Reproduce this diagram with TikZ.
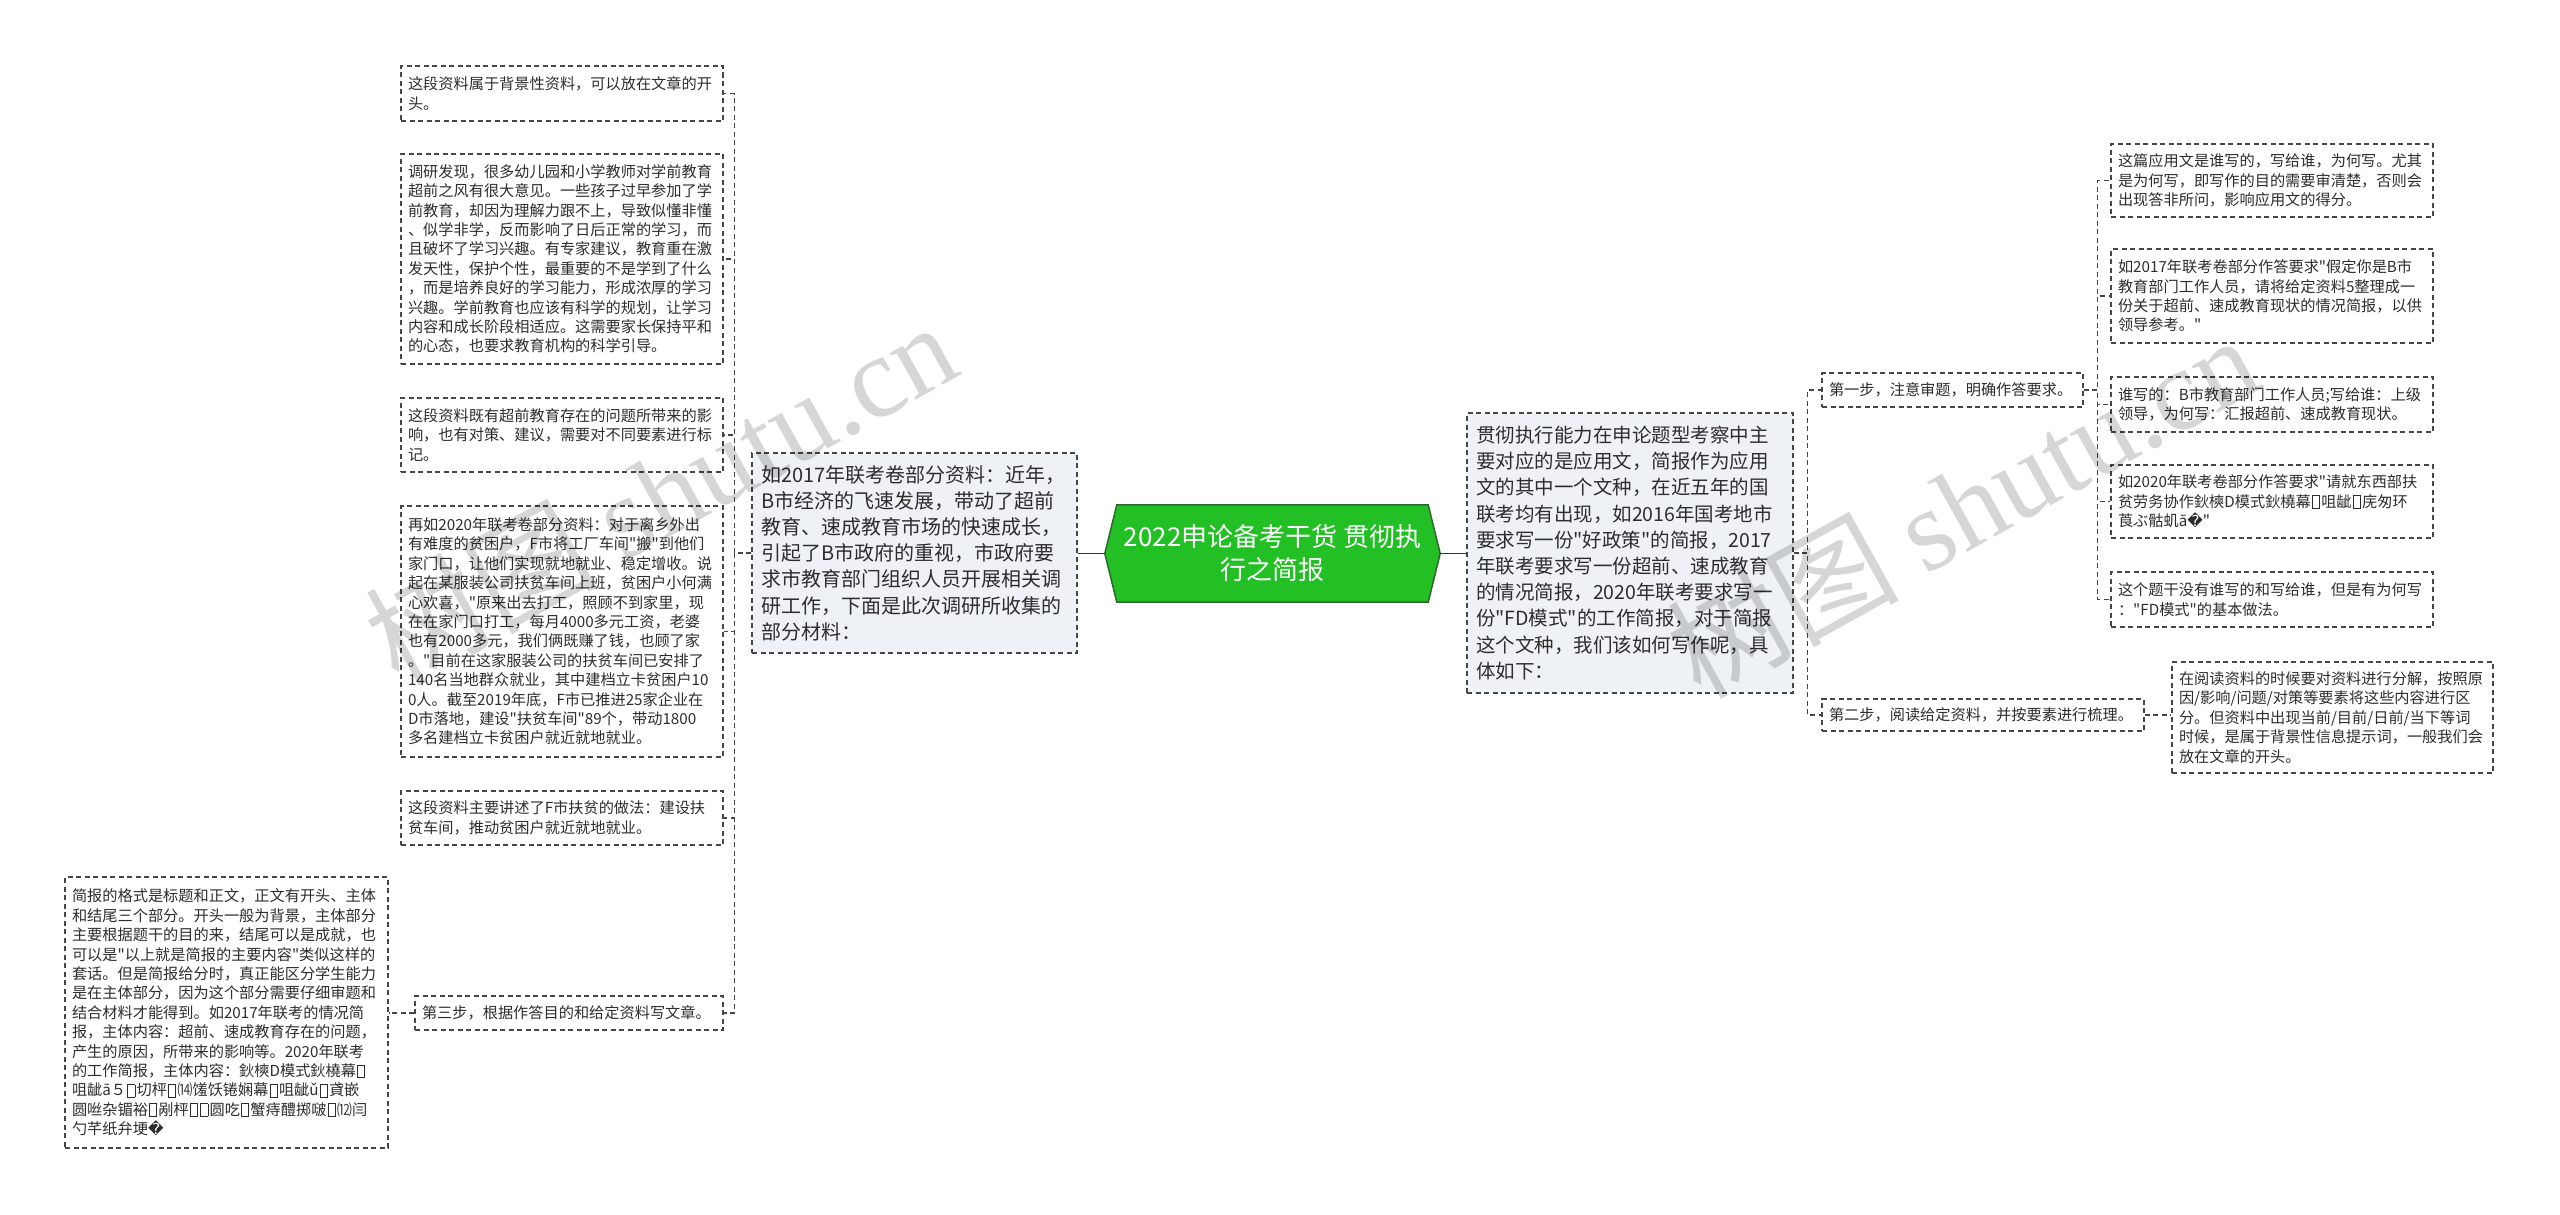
\documentclass[tikz,border=0pt]{standalone}
\usepackage{fontspec}
\setmainfont{Noto Sans CJK SC}
\newfontfamily\cjkmain{Noto Sans CJK SC}
\newfontfamily\symfont{DejaVu Sans}
\newfontfamily\wmfont{Liberation Serif}
\usetikzlibrary{calc}
\pgfdeclarelayer{bg}
\pgfsetlayers{bg,main}
\definecolor{rootgreen}{RGB}{34,192,36}
\definecolor{rootedge}{RGB}{45,105,45}
\definecolor{mainfill}{RGB}{238,242,246}
\definecolor{lineclr}{RGB}{70,70,70}
\definecolor{txt}{RGB}{45,45,45}
\newcommand\repch{{\symfont\symbol{"FFFD}}}
\newcommand\tofu{\leavevmode\kern0.08em\raise-0.1em\vbox{\hrule height 0.8pt\hbox{\vrule width 0.8pt height 0.78em\kern0.42em\vrule width 0.8pt}\hrule height 0.8pt}\kern0.08em}
\begin{document}
\begin{tikzpicture}[x=1pt,y=-1pt,
  box/.style={draw=lineclr, dash pattern=on 5pt off 3.5pt, line width=1.2pt, rectangle, inner xsep=7pt, inner ysep=0pt, align=left, text=txt, font=\cjkmain\fontsize{15.2}{19.4}\selectfont},
  mainbox/.style={box, fill=mainfill, inner xsep=9pt},
  conn/.style={draw=lineclr, dash pattern=on 5pt off 3.5pt, line width=1.2pt},
  rootconn/.style={draw=black!80, line width=1.6pt},
  wm/.style={text=black, text opacity=0.16, rotate=29, inner sep=0pt, font=\cjkmain\fontsize{116}{116}\selectfont}
]
\path[use as bounding box] (0,0) rectangle (2560,1215);

% root
\node[inner sep=0pt, minimum width=335pt, minimum height=97pt, align=center, text=white,
  font=\cjkmain\fontsize{26}{33}\selectfont] (root) at (1272.5,553.5) {2022申论备考干货 贯彻执\\行之简报};
\begin{pgfonlayer}{bg}
\fill[white] (0,0) rectangle (2560,1215);
\filldraw[fill=rootgreen, draw=rootedge, line width=1.5pt]
  (root.west) -- ($(root.north west)+(12,0)$) -- ($(root.north east)+(-12,0)$) -- (root.east)
  -- ($(root.south east)+(-12,0)$) -- ($(root.south west)+(12,0)$) -- cycle;
\end{pgfonlayer}

% main nodes
\node[mainbox, text width=307pt, minimum height=200pt, font=\cjkmain\fontsize{20}{26.2}\selectfont] (lm) at (914.5,553) {如2017年联考卷部分资料：近年，\\B市经济的飞速发展，带动了超前\\教育、速成教育市场的快速成长，\\引起了B市政府的重视，市政府要\\求市教育部门组织人员开展相关调\\研工作，下面是此次调研所收集的\\部分材料：};
\node[mainbox, text width=308pt, minimum height=280pt, font=\cjkmain\fontsize{19.5}{26.2}\selectfont] (rm) at (1630,553) {贯彻执行能力在申论题型考察中主\\要对应的是应用文，简报作为应用\\文的其中一个文种，在近五年的国\\联考均有出现，如2016年国考地市\\要求写一份"好政策"的简报，2017\\年联考要求写一份超前、速成教育\\的情况简报，2020年联考要求写一\\份"FD模式"的工作简报，对于简报\\这个文种，我们该如何写作呢，具\\体如下：};

% left children
\node[box, text width=308pt, minimum height=55pt] (L1) at (562,93.5) {这段资料属于背景性资料，可以放在文章的开\\头。};
\node[box, text width=308pt, minimum height=210pt] (L2) at (562,259) {调研发现，很多幼儿园和小学教师对学前教育\\超前之风有很大意见。一些孩子过早参加了学\\前教育，却因为理解力跟不上，导致似懂非懂\\、似学非学，反而影响了日后正常的学习，而\\且破坏了学习兴趣。有专家建议，教育重在激\\发天性，保护个性，最重要的不是学到了什么\\，而是培养良好的学习能力，形成浓厚的学习\\兴趣。学前教育也应该有科学的规划，让学习\\内容和成长阶段相适应。这需要家长保持平和\\的心态，也要求教育机构的科学引导。};
\node[box, text width=308pt, minimum height=74pt] (L3) at (562,435) {这段资料既有超前教育存在的问题所带来的影\\响，也有对策、建议，需要对不同要素进行标\\记。};
\node[box, text width=308pt, minimum height=251pt] (L4) at (562,631.5) {再如2020年联考卷部分资料：对于离乡外出\\有难度的贫困户，F市将工厂车间"搬"到他们\\家门口，让他们实现就地就业、稳定增收。说\\起在某服装公司扶贫车间上班，贫困户小何满\\心欢喜，"原来出去打工，照顾不到家里，现\\在在家门口打工，每月4000多元工资，老婆\\也有2000多元，我们俩既赚了钱，也顾了家\\。"目前在这家服装公司的扶贫车间已安排了\\140名当地群众就业，其中建档立卡贫困户10\\0人。截至2019年底，F市已推进25家企业在\\D市落地，建设"扶贫车间"89个，带动1800\\多名建档立卡贫困户就近就地就业。};
\node[box, text width=308pt, minimum height=54pt] (L5) at (562,818) {这段资料主要讲述了F市扶贫的做法：建设扶\\贫车间，推动贫困户就近就地就业。};
\node[box, text width=294pt, minimum height=34pt] (L6) at (569,1013) {第三步，根据作答目的和给定资料写文章。};
\node[box, text width=309pt, minimum height=271pt] (LL) at (226.5,1012.5) {简报的格式是标题和正文，正文有开头、主体\\和结尾三个部分。开头一般为背景，主体部分\\主要根据题干的目的来，结尾可以是成就，也\\可以是"以上就是简报的主要内容"类似这样的\\套话。但是简报给分时，真正能区分学生能力\\是在主体部分，因为这个部分需要仔细审题和\\结合材料才能得到。如2017年联考的情况简\\报，主体内容：超前、速成教育存在的问题，\\产生的原因，所带来的影响等。2020年联考\\的工作简报，主体内容：鈥樉D模式鈥橈幕\tofu\\咀龇ā５\tofu 切枰\tofu ⒁馐饫锩娴幕\tofu 咀龇ǔ\tofu 貣嵌\\圆咝杂镅裕\tofu 剐枰\tofu\tofu 圆吃\tofu 蟹痔醴掷啵\tofu ⑿闫\\勺芊纸弁埂\repch};

% right side
\node[box, text width=247pt, minimum height=34pt] (s1) at (1952.5,390) {第一步，注意审题，明确作答要求。};
\node[box, text width=308pt, minimum height=32pt] (s2) at (1983,715) {第二步，阅读给定资料，并按要素进行梳理。};
\node[box, text width=308pt, minimum height=73pt] (c1) at (2272,180.5) {这篇应用文是谁写的，写给谁，为何写。尤其\\是为何写，即写作的目的需要审清楚，否则会\\出现答非所问，影响应用文的得分。};
\node[box, text width=308pt, minimum height=94pt] (c2) at (2272,296) {如2017年联考卷部分作答要求"假定你是B市\\教育部门工作人员，请将给定资料5整理成一\\份关于超前、速成教育现状的情况简报，以供\\领导参考。"};
\node[box, text width=308pt, minimum height=55pt] (c3) at (2272,404.5) {谁写的：B市教育部门工作人员;写给谁：上级\\领导，为何写：汇报超前、速成教育现状。};
\node[box, text width=308pt, minimum height=73pt] (c4) at (2272,501.5) {如2020年联考卷部分作答要求"请就东西部扶\\贫劳务协作鈥樉D模式鈥橈幕\tofu 咀龇\tofu 庑匆环\\莨ぶ骷虮ā\repch"};
\node[box, text width=308pt, minimum height=55pt] (c5) at (2272,599.5) {这个题干没有谁写的和写给谁，但是有为何写\\："FD模式"的基本做法。};
\node[box, text width=307pt, minimum height=111pt] (s2c) at (2332.5,717.5) {在阅读资料的时候要对资料进行分解，按照原\\因/影响/问题/对策等要素将这些内容进行区\\分。但资料中出现当前/目前/日前/当下等词\\时候，是属于背景性信息提示词，一般我们会\\放在文章的开头。};

% connectors
\draw[rootconn] (root.west) -- (root.west -| lm.east);
\draw[rootconn] (root.east) -- (root.east -| rm.west);
\foreach \n in {L1,L2,L3,L4,L5,L6}
  \draw[conn] (lm.west) -- ++(-17,0) |- (\n.east);
\draw[conn] (L6.west) -- (L6.west -| LL.east);
\foreach \n in {s1,s2}
  \draw[conn] (rm.east) -- ++(14,0) |- (\n.west);
\foreach \n in {c1,c2,c3,c4,c5}
  \draw[conn] (s1.east) -- ++(14,0) |- (\n.west);
\draw[conn] (s2.east) -- (s2.east -| s2c.west);

% watermarks
\node[wm] (wm1) at (660,492) {树图 {\wmfont shutu.cn}};
\node[wm] (wm2) at (1962,505) {树图 {\wmfont shutu.cn}};
\end{tikzpicture}
\end{document}
